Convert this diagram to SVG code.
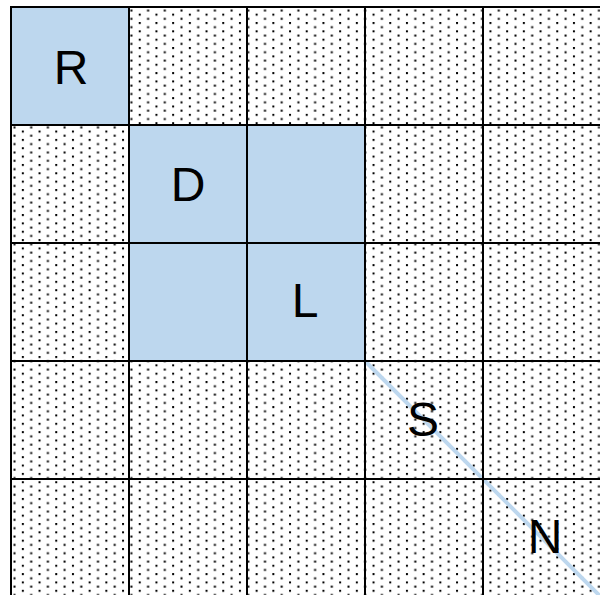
<svg xmlns="http://www.w3.org/2000/svg" width="600" height="595" viewBox="0 0 600 595">
<defs>
<pattern id="dots" x="13" y="9" width="16.7" height="8.35" patternUnits="userSpaceOnUse">
<rect x="0.5" y="0.5" width="2" height="2" fill="#000"/>
<rect x="8.85" y="4.65" width="2" height="2" fill="#000"/>
</pattern>
<style>
.cell{fill:#BDD7EE}
.grid{stroke:#000;stroke-width:2;fill:none}
.lbl{font-family:"Liberation Sans",Arial,sans-serif;font-size:48px;fill:#000;text-anchor:middle}
.diag{stroke:#BDD7EE;stroke-width:4;fill:none}
</style>
</defs>
<rect x="0" y="0" width="600" height="595" fill="#fff"/>
<rect x="11" y="7" width="600" height="600" fill="url(#dots)"/>
<g id="node-R"><rect class="cell" x="11" y="7" width="118" height="118"/><text class="lbl" x="71" y="84">R</text></g>
<g id="node-D"><rect class="cell" x="129" y="125" width="118" height="118"/><rect class="cell" x="247" y="125" width="118" height="118"/><rect class="cell" x="129" y="243" width="118" height="118"/><text class="lbl" x="188" y="201">D</text></g>
<g id="node-L"><rect class="cell" x="247" y="243" width="118" height="118"/><text class="lbl" x="305" y="317">L</text></g>
<g id="connectors"><line class="diag" x1="365" y1="361" x2="602" y2="598"/></g>
<g id="grid">
<path class="grid" d="M11 7H601M11 125H601M11 243H601M11 361H601M11 479H601M11 6V596M129 7V596M247 7V596M365 7V596M483 7V596"/>
</g>
<g id="node-S"><text class="lbl" x="423" y="436">S</text></g>
<g id="node-N"><text class="lbl" x="545" y="553">N</text></g>
</svg>
